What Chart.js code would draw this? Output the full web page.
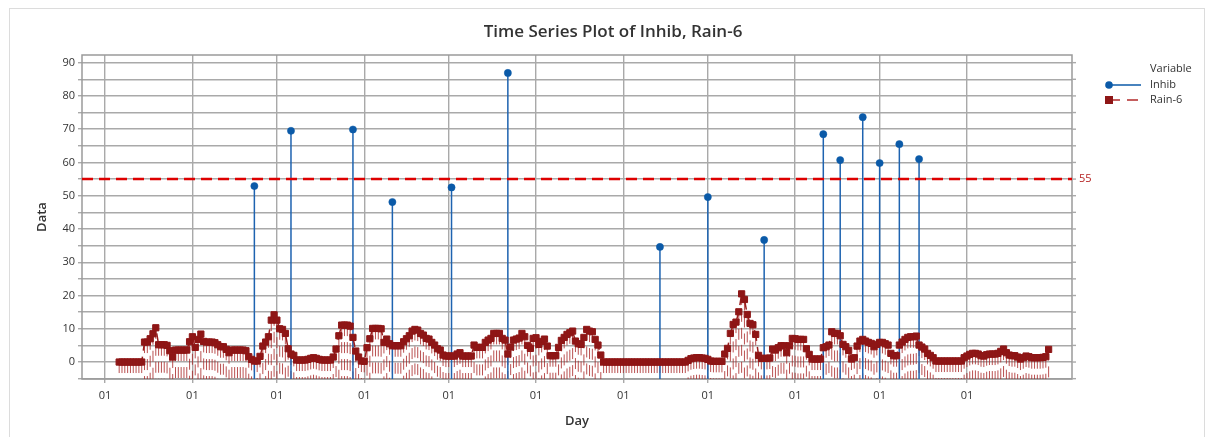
<!DOCTYPE html>
<html>
<head>
<meta charset="utf-8">
<script src="https://cdn.jsdelivr.net/npm/chart.js@4.4.1/dist/chart.umd.min.js"></script>
<style>
html,body{margin:0;padding:0;background:#fff;}
#wrap{position:relative;width:1212px;height:437px;overflow:hidden;}
#border{position:absolute;left:9px;top:8px;width:1196px;height:440px;border:1px solid #dcdcdc;box-sizing:border-box;pointer-events:none;}
canvas{display:block;}
</style>
</head>
<body>
<div id="wrap">
<canvas id="c" width="1212" height="437"></canvas>
<div id="border"></div>
</div>
<script>
// ---- x axis: day index, month starts labelled "01" ----
const monthStartDays = [0, 31, 61, 92, 122, 153, 184, 214, 245, 275, 306];
const monthTickLabels = ['01','01','01','01','01','01','01','01','01','01','01'];

// ---- Rain-6 series (one value per day, starting at day rainFirstDay) ----
const rainFirstDay = 5;
const rain6 = [
  0,0,0,0,0,0,0,0,0,6,
  6,7,8.5,10.3,5.2,5.2,5.2,5,3.4,1.5,
  3.6,3.6,3.6,3.6,3.6,6.1,7.6,4.4,6.8,8.4,
  6.2,6,6,6,5.8,5.2,4.6,4.6,3.8,2.8,
  3.6,3.6,3.6,3.6,3.6,3.4,1.6,0.8,0.3,0.3,
  1.7,4.8,6,7.6,12.6,14.2,12.6,10,9.8,8.6,
  4,2.4,2,0.6,0.6,0.6,0.6,0.8,1.1,1.3,
  1.1,0.8,0.6,0.6,0.6,0.6,1.5,3.9,7.9,11.1,
  11.1,11.1,10.8,7.4,3.3,1.5,0.3,0.2,4.3,7,
  10.1,10.1,10.1,10,5.9,6.9,5.5,4.9,4.9,4.9,
  4.9,6.1,7,7.9,9.3,9.8,9.6,8.6,8.1,7.1,
  6.9,5.9,5.1,4,3.6,2.1,1.8,1.8,1.8,1.8,
  2.4,2.8,1.8,1.8,1.8,1.8,5.1,4.4,4.4,4.4,
  5.9,6.6,7.1,8.6,8.6,8.6,7.1,6.6,2.4,4.5,
  6.6,6.9,7.2,8.6,7.6,5,4.1,7.1,7.3,5.3,
  6.2,6.9,4.8,1.9,1.9,1.9,4.4,6.5,7.4,8.3,
  8.8,9.3,6.3,5.5,5.3,7.4,9.8,9.3,9.1,6.8,
  5.1,2.1,0,0,0,0,0,0,0,0,
  0,0,0,0,0,0,0,0,0,0,
  0,0,0,0,0,0,0,0,0,0,
  0,0,0.5,1,1.2,1.3,1.3,1.2,1.1,0.8,
  0.3,0.2,0.2,0.2,0.2,2.4,4.1,8.6,11.3,12,
  15.1,20.5,18.8,14.3,11.6,11.2,8.3,2,1.1,1.1,
  1.1,1.2,3.9,3.6,4.3,4.9,4.9,2.8,4.9,7.1,
  7,6.8,6.8,6.8,4,2.3,0.9,0.9,0.9,0.9,
  4.3,4.6,5.1,9.1,8.6,8.6,7.9,5.3,4.6,3.5,
  0.9,1.3,4.8,6.3,6.8,6.3,5.9,5.6,4.6,5.3,
  5.9,5.9,5.5,5.1,2.6,1.9,1.9,5.1,6,6.8,
  7.4,7.6,7.6,7.8,5.1,4.5,3.9,2.6,2,1.3,
  0.3,0.3,0.3,0.3,0.3,0.3,0.3,0.3,0.3,0.3,
  1.3,1.8,2.3,2.6,2.6,2.4,1.9,1.8,2.2,2.4,
  2.4,2.4,2.6,3.2,3.9,2.8,2.1,1.9,1.9,1.5,
  0.9,1.3,1.8,1.6,1.3,1.3,1.3,1.3,1.4,1.6,
  3.8
];

// ---- Inhib series (sparse) ----
const inhibDays   = [53, 66, 88, 102, 123, 143, 197, 214, 234, 255, 261, 269, 275, 282, 289];
const inhibValues = [52.9, 69.5, 69.9, 48.1, 52.5, 86.9, 34.6, 49.6, 36.7, 68.5, 60.7, 73.6, 59.8, 65.5, 61.0];

// ---- reference line and y ticks ----
const referenceValue = 55;
const yTickValues = [-5,0,5,10,15,20,25,30,35,40,45,50,55,60,65,70,75,80,85,90];
const titleText = 'Time Series Plot of Inhib, Rain-6';

const Y_MIN = -5.1, Y_MAX = 92.3, X_MIN = -8.2, X_MAX = 343.3;

const BLUE = '#0b5aa8';
const DARKRED = '#8e1616';
const STEMRED = 'rgba(168,36,36,0.8)';
const GRID = '#a9a9a9';
const TEXT = '#333333';

const rainDays = rain6.map((_, i) => rainFirstDay + i);

function stems(xs, ys) {
  const pts = [];
  xs.forEach((x, i) => {
    pts.push({x: x, y: ys[i]}, {x: x, y: Y_MIN}, {x: x, y: null});
  });
  return pts;
}

Chart.defaults.font.family = "'Open Sans', 'Noto Sans', sans-serif";
Chart.defaults.color = TEXT;

const decor = {
  id: 'decor',
  beforeDatasetsDraw(chart) {
    const {ctx, chartArea: a, scales: {y}} = chart;
    ctx.save();
    ctx.strokeStyle = '#9a9a9a';
    ctx.lineWidth = 1.5;
    ctx.strokeRect(a.left, a.top, a.right - a.left, a.bottom - a.top);
    ctx.strokeStyle = GRID;
    ctx.lineWidth = 1.4;
    yTickValues.forEach(v => {
      const py = y.getPixelForValue(v);
      ctx.beginPath(); ctx.moveTo(a.right, py); ctx.lineTo(a.right + 4, py); ctx.stroke();
    });
    ctx.restore();
  },
  afterDatasetsDraw(chart) {
    const {ctx, chartArea: a, scales: {y}} = chart;
    const py = y.getPixelForValue(referenceValue);
    ctx.save();
    ctx.strokeStyle = '#dd0000';
    ctx.lineWidth = 2.5;
    ctx.setLineDash([11, 6]);
    ctx.beginPath(); ctx.moveTo(a.left, py); ctx.lineTo(a.right, py); ctx.stroke();
    ctx.setLineDash([]);
    ctx.fillStyle = '#b41f1f';
    ctx.font = "11px 'Open Sans', sans-serif";
    ctx.textAlign = 'left';
    ctx.textBaseline = 'middle';
    ctx.fillText(String(referenceValue), a.right + 7, py);
    ctx.restore();
  },
  afterDraw(chart) {
    const {ctx} = chart;
    ctx.save();
    // title
    ctx.font = "600 17px 'Open Sans', sans-serif";
    ctx.fillStyle = TEXT;
    ctx.textAlign = 'center';
    ctx.textBaseline = 'middle';
    ctx.fillText(titleText, 613, 32);
    // legend
    ctx.font = "11px 'Open Sans', sans-serif";
    ctx.textAlign = 'left';
    ctx.fillText('Variable', 1150, 69);
    ctx.strokeStyle = BLUE; ctx.lineWidth = 1.5;
    ctx.beginPath(); ctx.moveTo(1109, 85); ctx.lineTo(1141, 85); ctx.stroke();
    ctx.fillStyle = BLUE;
    ctx.beginPath(); ctx.arc(1109, 85, 3.8, 0, Math.PI * 2); ctx.fill();
    ctx.fillStyle = TEXT;
    ctx.fillText(chart.data.datasets[0].label, 1150, 85);
    ctx.strokeStyle = '#b22a2a'; ctx.lineWidth = 1.5; ctx.setLineDash([11, 7]);
    ctx.beginPath(); ctx.moveTo(1109, 100); ctx.lineTo(1141, 100); ctx.stroke();
    ctx.setLineDash([]);
    ctx.fillStyle = DARKRED;
    ctx.fillRect(1105, 96, 8, 8);
    ctx.fillStyle = TEXT;
    ctx.fillText(chart.data.datasets[1].label, 1150, 100);
    ctx.restore();
  }
};

new Chart(document.getElementById('c'), {
  type: 'line',
  data: {
    datasets: [
      {
        label: 'Inhib',
        data: inhibDays.map((d, i) => ({x: d, y: inhibValues[i]})),
        showLine: false,
        pointStyle: 'circle',
        pointRadius: 3.6,
        pointBackgroundColor: BLUE,
        pointBorderColor: BLUE,
        pointBorderWidth: 0.5,
        order: 0
      },
      {
        label: 'Rain-6',
        data: rainDays.map((d, i) => ({x: d, y: rain6[i]})),
        borderColor: '#9a1c1c',
        borderWidth: 1.5,
        borderDash: [11, 6],
        pointStyle: 'rect',
        pointRadius: 4.4,
        pointBackgroundColor: DARKRED,
        pointBorderColor: DARKRED,
        pointBorderWidth: 1,
        tension: 0,
        order: 1
      },
      {
        label: 'Inhib stems',
        data: stems(inhibDays, inhibValues),
        borderColor: '#1e63b0',
        borderWidth: 1.5,
        pointRadius: 0,
        spanGaps: false,
        order: 2
      },
      {
        label: 'Rain-6 stems',
        data: stems(rainDays, rain6),
        borderColor: STEMRED,
        borderWidth: 1,
        borderDash: [11, 6],
        pointRadius: 0,
        spanGaps: false,
        order: 3
      }
    ]
  },
  options: {
    responsive: false,
    animation: false,
    events: [],
    layout: {padding: {left: 0, right: 140, top: 55, bottom: 0}},
    plugins: {
      legend: {display: false},
      tooltip: {enabled: false},
      title: {display: false}
    },
    scales: {
      x: {
        type: 'linear',
        min: X_MIN,
        max: X_MAX,
        afterBuildTicks: s => { s.ticks = monthStartDays.map(v => ({value: v})); },
        afterFit: s => { s.height = 58; },
        ticks: {
          autoSkip: false,
          maxRotation: 0,
          padding: 6,
          color: TEXT,
          font: {size: 11},
          callback: (v, i) => monthTickLabels[i]
        },
        grid: {color: GRID, lineWidth: 1.4, tickLength: 4, tickColor: GRID, drawTicks: true},
        border: {display: false},
        title: {display: true, text: 'Day', color: TEXT, font: {size: 13, weight: '600'}, padding: {top: 0, bottom: 8}}
      },
      y: {
        type: 'linear',
        min: Y_MIN,
        max: Y_MAX,
        afterBuildTicks: s => { s.ticks = yTickValues.map(v => ({value: v})); },
        afterFit: s => { s.width = 82; },
        ticks: {
          autoSkip: false,
          padding: 3,
          color: TEXT,
          font: {size: 11},
          callback: v => (v >= 0 && v % 10 === 0) ? String(v) : ''
        },
        grid: {color: GRID, lineWidth: 1.4, tickLength: 4, tickColor: GRID, drawTicks: true},
        border: {display: false},
        title: {display: true, text: 'Data', color: TEXT, font: {size: 13, weight: '600'}, padding: {top: 34, bottom: 0}}
      }
    }
  },
  plugins: [decor]
});
</script>
</body>
</html>
